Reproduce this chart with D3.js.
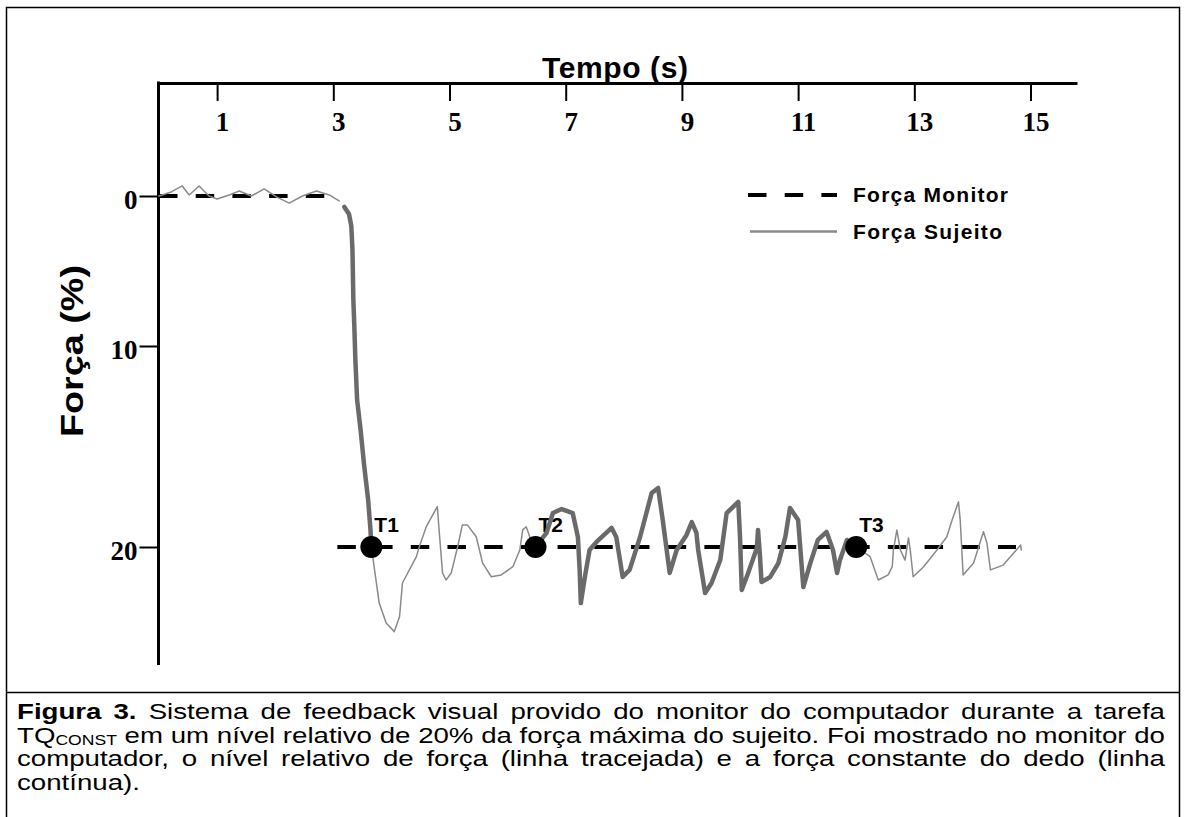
<!DOCTYPE html>
<html><head><meta charset="utf-8">
<script src="https://cdn.jsdelivr.net/npm/d3@7"></script>
<style>body{margin:0;background:#fff}svg{display:block}</style>
</head><body>
<svg id="c" width="1186" height="817"></svg>
<script>
// ---------- data ----------
const xTicks = [1, 3, 5, 7, 9, 11, 13, 15];
const yTicks = [0, 10, 20];
const xTitle = "Tempo (s)";
const yTitle = "Força (%)";
const legendLabels = ["Força Monitor", "Força Sujeito"];

// Força Monitor (target level, %)
const monitorBaseline = [[0, 0], [2.85, 0]];
const monitorTarget = [[3.07, 20], [14.75, 20]];

// Força Sujeito [time s, force %]
const subjectRest = [[0,0],[0.21,-0.27],[0.40,-0.67],[0.52,-0.07],[0.69,-0.67],[0.86,0],[1.00,0.2],[1.21,-0.07],[1.38,-0.33],[1.59,0],[1.81,-0.47],[2.03,0.07],[2.24,0.47],[2.47,0],[2.71,-0.33],[2.93,-0.07],[3.10,0.33]];
const subjectRamp = [[3.19,0.73],[3.27,1.2],[3.31,2.0],[3.33,3.6],[3.345,6.93],[3.36,8.47],[3.38,10.7],[3.41,12.69],[3.47,14.18],[3.53,15.92],[3.60,17.66],[3.64,19.15],[3.655,20]];
const subjectT1T2 = [[3.655,20],[3.71,21.14],[3.79,22.79],[3.91,23.78],[4.05,24.21],[4.14,23.47],[4.19,21.79],[4.43,20.48],[4.48,19.99],[4.60,18.99],[4.79,17.99],[4.83,19.49],[4.88,21.29],[4.94,21.64],[5.03,21.29],[5.14,19.99],[5.22,18.91],[5.31,18.91],[5.46,19.49],[5.57,20.80],[5.72,21.48],[5.89,21.39],[6.09,20.98],[6.21,20.15],[6.26,19.15],[6.32,18.99],[6.38,19.49],[6.43,19.99],[6.48,20]];
const subjectT2T3 = [[6.48,20],[6.67,19.30],[6.78,18.31],[6.93,18.11],[7.12,18.31],[7.21,19.50],[7.24,21.14],[7.26,22.79],[7.33,21.49],[7.41,20.15],[7.53,19.75],[7.79,19.05],[7.87,19.50],[7.98,21.49],[8.10,21.14],[8.28,19.50],[8.48,17.31],[8.59,17.06],[8.67,18.66],[8.79,21.29],[8.91,20.15],[9.08,19.40],[9.17,18.76],[9.25,19.30],[9.28,20.15],[9.40,22.29],[9.51,21.79],[9.66,20.65],[9.77,18.31],[9.97,17.76],[10.0,19.50],[10.03,22.14],[10.14,21.29],[10.29,20.05],[10.31,19.15],[10.34,20.30],[10.37,21.74],[10.52,21.49],[10.66,20.80],[10.78,19.50],[10.86,18.06],[11.0,18.66],[11.09,21.99],[11.21,20.80],[11.34,19.65],[11.49,19.25],[11.60,20.15],[11.67,21.29],[11.72,20.65],[11.84,19.65],[12.0,20]];
const subjectAfterT3 = [[12.0,20],[12.24,20.48],[12.38,21.64],[12.55,21.39],[12.62,20.98],[12.64,20.15],[12.70,19.15],[12.76,20.15],[12.84,20.65],[12.90,19.55],[12.93,20.15],[12.98,21.48],[13.16,20.98],[13.39,20.15],[13.56,19.49],[13.65,18.66],[13.76,17.75],[13.79,18.66],[13.82,20.30],[13.84,21.39],[14.02,20.80],[14.19,19.24],[14.25,19.80],[14.31,21.14],[14.53,20.90],[14.71,20.30],[14.83,19.90],[14.84,20.15]];

const markerTimes = [3.655, 6.48, 12.0];
const markerLabels = ["T1", "T2", "T3"];

const captionLines = [
  "Figura 3. Sistema de feedback visual provido do monitor do computador durante a tarefa",
  "TQ_CONST em um nível relativo de 20% da força máxima do sujeito. Foi mostrado no monitor do",
  "computador, o nível relativo de força (linha tracejada) e a força constante do dedo (linha",
  "contínua)."
];

// ---------- drawing ----------
const svg = d3.select("#c");
const SANS = "'Liberation Sans', Arial, sans-serif";
const SERIF = "'Liberation Serif', 'Times New Roman', serif";

const x = d3.scaleLinear().domain([0, 15.8]).range([159, 1077]);
const y = d3.scaleLinear().domain([0, 10, 20]).range([196, 346, 547]);

// frame
svg.append("rect").attr("x", 6.5).attr("y", 7.5).attr("width", 1173).attr("height", 830)
  .attr("fill", "none").attr("stroke", "#000").attr("stroke-width", 1.5);
svg.append("line").attr("x1", 6.5).attr("x2", 1179.5).attr("y1", 692.5).attr("y2", 692.5)
  .attr("stroke", "#000").attr("stroke-width", 1.5);

// x axis (top)
const xAxis = svg.append("g").attr("transform", "translate(0,83)")
  .call(d3.axisBottom(x).tickValues(xTicks).tickSize(18).tickSizeOuter(0).tickFormat(d3.format("d")));
xAxis.select(".domain").attr("stroke-width", 3);
xAxis.selectAll(".tick line").attr("stroke-width", 2);
xAxis.selectAll(".tick text").attr("y", 48).attr("dy", 0).attr("dx", 5)
  .style("font-family", SERIF).style("font-weight", "bold").style("font-size", "27px").attr("fill", "#000");

// y axis (left)
const yAxis = svg.append("g").attr("transform", "translate(158.5,0)")
  .call(d3.axisLeft(y).tickValues(yTicks).tickSize(19).tickFormat(d3.format("d")));
yAxis.select(".domain").remove();
yAxis.selectAll(".tick line").attr("stroke-width", 2);
yAxis.selectAll(".tick text").attr("x", -21).attr("dy", 12)
  .style("font-family", SERIF).style("font-weight", "bold").style("font-size", "27px").attr("fill", "#000");
svg.append("line").attr("x1", 158.5).attr("x2", 158.5).attr("y1", 81.5).attr("y2", 665)
  .attr("stroke", "#000").attr("stroke-width", 3);

// titles
svg.append("text").attr("x", 542).attr("y", 78).text(xTitle)
  .attr("textLength", 146).attr("lengthAdjust", "spacing")
  .style("font-family", SANS).style("font-weight", "bold").style("font-size", "30px");
svg.append("text").attr("transform", "translate(83,351) rotate(-90)").attr("text-anchor", "middle")
  .text(yTitle).attr("textLength", 172).attr("lengthAdjust", "spacingAndGlyphs")
  .style("font-family", SANS).style("font-weight", "bold").style("font-size", "32px");

const line = d3.line().x(d => x(d[0])).y(d => y(d[1]));
const DASH = "18.5 18.2";

// monitor dashed
[monitorBaseline, monitorTarget].forEach(seg => {
  svg.append("path").attr("d", line(seg)).attr("fill", "none").attr("stroke", "#000")
    .attr("stroke-width", 4).attr("stroke-dasharray", DASH);
});

const THIN = "#8a8a8a", THICK = "#6a6a6a";
function drawSeg(seg, thick) {
  svg.append("path").attr("d", line(seg)).attr("fill", "none")
    .attr("stroke", thick ? THICK : THIN).attr("stroke-width", thick ? 4.5 : 1.5)
    .attr("stroke-linejoin", "round").attr("stroke-linecap", "round");
}
drawSeg(subjectRest, false);
drawSeg(subjectT1T2, false);
drawSeg(subjectAfterT3, false);

// marker labels
markerTimes.forEach((t, i) => {
  svg.append("text").attr("x", x(t) + 3).attr("y", y(20) - 15).text(markerLabels[i])
    .style("font-family", SANS).style("font-weight", "bold").style("font-size", "21px");
});

drawSeg(subjectRamp, true);
drawSeg(subjectT2T3, true);

// markers
markerTimes.forEach(t => {
  svg.append("circle").attr("cx", x(t)).attr("cy", y(20)).attr("r", 11).attr("fill", "#000");
});

// legend
svg.append("line").attr("x1", 748).attr("x2", 837).attr("y1", 195).attr("y2", 195)
  .attr("stroke", "#000").attr("stroke-width", 4).attr("stroke-dasharray", DASH);
svg.append("line").attr("x1", 750).attr("x2", 837).attr("y1", 231.5).attr("y2", 231.5)
  .attr("stroke", THIN).attr("stroke-width", 2.5);
svg.append("text").attr("x", 853).attr("y", 202).text(legendLabels[0])
  .attr("textLength", 155).attr("lengthAdjust", "spacing")
  .style("font-family", SANS).style("font-weight", "bold").style("font-size", "21px");
svg.append("text").attr("x", 853).attr("y", 238.5).text(legendLabels[1])
  .attr("textLength", 149).attr("lengthAdjust", "spacing")
  .style("font-family", SANS).style("font-weight", "bold").style("font-size", "21px");

// caption (justified)
const CAP_X = 17, CAP_W = 1148, CAP_Y0 = 719, CAP_DY = 23.5, CAP_FS = 22;
const cap = svg.append("g");
function buildLine(g, str, lineIdx) {
  const words = str.split(" ");
  return words.map((w, wi) => {
    const t = g.append("text").style("font-family", SANS).style("font-size", CAP_FS + "px").attr("fill", "#000");
    if (lineIdx === 0 && wi < 2) t.style("font-weight", "bold");
    if (w.includes("_")) {
      const [a, b] = w.split("_");
      t.append("tspan").text(a);
      t.append("tspan").text(b).style("font-size", "14px").attr("dy", 2.5);
    } else t.text(w);
    return t;
  });
}
// horizontal stretch derived from line 2 (natural spacing)
const probe = cap.append("g");
const probeWords = buildLine(probe, captionLines[1], 1);
const spaceW = CAP_FS * 0.278;
const natural = d3.sum(probeWords, t => t.node().getComputedTextLength()) + spaceW * (probeWords.length - 1);
probe.remove();
const k = CAP_W / natural;

captionLines.forEach((str, li) => {
  const g = cap.append("g").attr("transform", `translate(${CAP_X},${CAP_Y0 + li * CAP_DY}) scale(${k},1)`);
  const ws = buildLine(g, str, li);
  const widths = ws.map(t => t.node().getComputedTextLength());
  const total = d3.sum(widths);
  const justify = li < captionLines.length - 1;
  const gap = justify ? (CAP_W / k - total) / (ws.length - 1) : spaceW;
  let cx = 0;
  ws.forEach((t, i) => { t.attr("x", cx); t.selectAll("tspan").filter((d, j) => j === 0).attr("x", cx); cx += widths[i] + gap; });
});
</script>
</body></html>
